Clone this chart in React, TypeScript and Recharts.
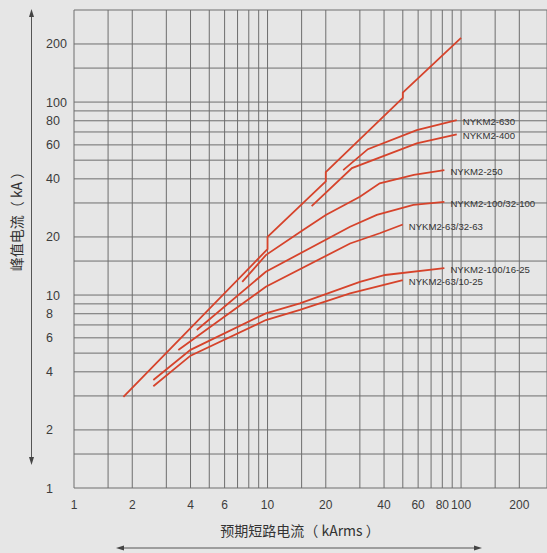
import React from "react";
import { LineChart, Line, XAxis, YAxis, CartesianGrid, LabelList } from "recharts";

// grid lines (log axes) and the values that carry a printed label
const xTicks = [1, 1.5, 2, 3, 4, 5, 6, 7, 8, 9, 10, 15, 20, 30, 40, 50, 60, 70, 80, 90, 100, 150, 200];
const yTicks = [1, 1.5, 2, 3, 4, 5, 6, 7, 8, 9, 10, 15, 20, 30, 40, 50, 60, 70, 80, 90, 100, 150, 200, 300];
const xLabels = [1, 2, 4, 6, 10, 20, 40, 60, 80, 100, 200];
const yLabels = [1, 2, 4, 6, 8, 10, 20, 40, 60, 80, 100, 200];

// unlimited peak current line
const peakLine = [
  { x: 1.8, y: 2.97 },
  { x: 10, y: 17.3 },
  { x: 10, y: 20 },
  { x: 20, y: 38.8 },
  { x: 20, y: 43.3 },
  { x: 50, y: 105 },
  { x: 50, y: 112 },
  { x: 100, y: 215 },
];
const nykm630 = [
  { x: 24.6, y: 44.4 },
  { x: 33, y: 57 },
  { x: 59, y: 71.6 },
  { x: 95, y: 80.7 },
];
const nykm400 = [
  { x: 16.9, y: 28.9 },
  { x: 27.3, y: 45.5 },
  { x: 59, y: 61.1 },
  { x: 95, y: 68 },
];
const nykm250 = [
  { x: 7.4, y: 11.7 },
  { x: 9.8, y: 16.1 },
  { x: 15, y: 21.5 },
  { x: 20, y: 26 },
  { x: 30, y: 32.3 },
  { x: 38, y: 37.9 },
  { x: 57, y: 41.9 },
  { x: 82, y: 44.4 },
];
const nykm100_32 = [
  { x: 4.31, y: 6.59 },
  { x: 9.8, y: 13.2 },
  { x: 26.7, y: 22.6 },
  { x: 36.7, y: 26 },
  { x: 56.7, y: 29.3 },
  { x: 82, y: 30.4 },
];
const nykm63_32 = [
  { x: 3.46, y: 5.19 },
  { x: 9.8, y: 11.04 },
  { x: 26.7, y: 18.5 },
  { x: 38, y: 20.9 },
  { x: 50, y: 23.2 },
];
const nykm100_16 = [
  { x: 2.57, y: 3.63 },
  { x: 4, y: 5.2 },
  { x: 9.8, y: 8.04 },
  { x: 14.7, y: 9.06 },
  { x: 30, y: 11.7 },
  { x: 40.5, y: 12.7 },
  { x: 82, y: 13.8 },
];
const nykm63_10 = [
  { x: 2.57, y: 3.37 },
  { x: 4, y: 4.85 },
  { x: 9.8, y: 7.42 },
  { x: 14.7, y: 8.37 },
  { x: 26.7, y: 10.2 },
  { x: 50, y: 11.96 },
];

const series = [
  { name: "peak", data: peakLine, label: "" },
  { name: "630", data: nykm630, label: "NYKM2-630" },
  { name: "400", data: nykm400, label: "NYKM2-400" },
  { name: "250", data: nykm250, label: "NYKM2-250" },
  { name: "100-32", data: nykm100_32, label: "NYKM2-100/32-100" },
  { name: "63-32", data: nykm63_32, label: "NYKM2-63/32-63" },
  { name: "100-16", data: nykm100_16, label: "NYKM2-100/16-25" },
  { name: "63-10", data: nykm63_10, label: "NYKM2-63/10-25" },
];

const RED = "#d6432b";
const GRID = "#6e6e6e";
const TXT = "#3c3c3c";
const NUM_FONT = "'Liberation Sans', Arial, sans-serif";
const CJK_FONT = "'Noto Sans CJK SC', sans-serif";

const XTick = (props: any) => {
  const { x, payload } = props;
  if (!xLabels.includes(payload.value)) return <g />;
  return (
    <text x={x} y={509} textAnchor="middle" fontSize={12} fill={TXT} fontFamily={NUM_FONT}>
      {payload.value}
    </text>
  );
};

const YTick = (props: any) => {
  const { y, payload } = props;
  if (!yLabels.includes(payload.value)) return <g />;
  return (
    <text x={46} y={y + 4.5} textAnchor="start" fontSize={12.5} fill={TXT} fontFamily={NUM_FONT}>
      {payload.value}
    </text>
  );
};

const endLabel = (text: string, last: number) => (props: any) => {
  const { x, y, index } = props;
  if (!text || index !== last) return null;
  return (
    <text x={x + 6} y={y + 5} fontSize={9.6} fill="#333" fontFamily={NUM_FONT}>
      {text}
    </text>
  );
};

const App: React.FC = () => {
  return (
    <div style={{ position: "absolute", left: 0, top: 0, width: 547, height: 553, background: "#e6e6e6" }}>
      <LineChart width={547} height={553} margin={{ top: 10, right: 0, left: 0, bottom: 0 }}>
        <CartesianGrid stroke={GRID} strokeWidth={1} />
        <XAxis
          dataKey="x"
          type="number"
          scale="log"
          domain={[1, 278]}
          allowDataOverflow
          ticks={xTicks}
          interval={0}
          height={65}
          axisLine={false}
          tickLine={false}
          tick={<XTick />}
        />
        <YAxis
          type="number"
          scale="log"
          domain={[1, 300]}
          allowDataOverflow
          ticks={yTicks}
          interval={0}
          width={74}
          axisLine={false}
          tickLine={false}
          tick={<YTick />}
        />
        {series.map((s) => (
          <Line
            key={s.name}
            data={s.data}
            dataKey="y"
            type="linear"
            stroke={RED}
            strokeWidth={1.8}
            dot={false}
            isAnimationActive={false}
          >
            <LabelList dataKey="y" content={endLabel(s.label, s.data.length - 1)} />
          </Line>
        ))}
      </LineChart>
      <svg width={547} height={553} style={{ position: "absolute", left: 0, top: 0, pointerEvents: "none" }}>
        {/* vertical double arrow */}
        <line x1={31.5} y1={15} x2={31.5} y2={459} stroke="#555" strokeWidth={1} />
        <polygon points="31.5,9 29,17 34,17" fill="#444" />
        <polygon points="31.5,465 29,457 34,457" fill="#444" />
        <text
          x={0}
          y={0}
          transform="translate(22,218) rotate(-90)"
          textAnchor="middle"
          fontSize={14}
          fill="#333"
          fontFamily={CJK_FONT}
        >
          峰值电流（ kA ）
        </text>
        {/* horizontal double arrow */}
        <line x1={122} y1={548} x2={476} y2={548} stroke="#555" strokeWidth={1} />
        <polygon points="116,548 124,545.5 124,550.5" fill="#444" />
        <polygon points="482,548 474,545.5 474,550.5" fill="#444" />
        <text x={300} y={536} textAnchor="middle" fontSize={14} fill="#333" fontFamily={CJK_FONT}>
          预期短路电流（ kArms ）
        </text>
      </svg>
    </div>
  );
};

export default App;
